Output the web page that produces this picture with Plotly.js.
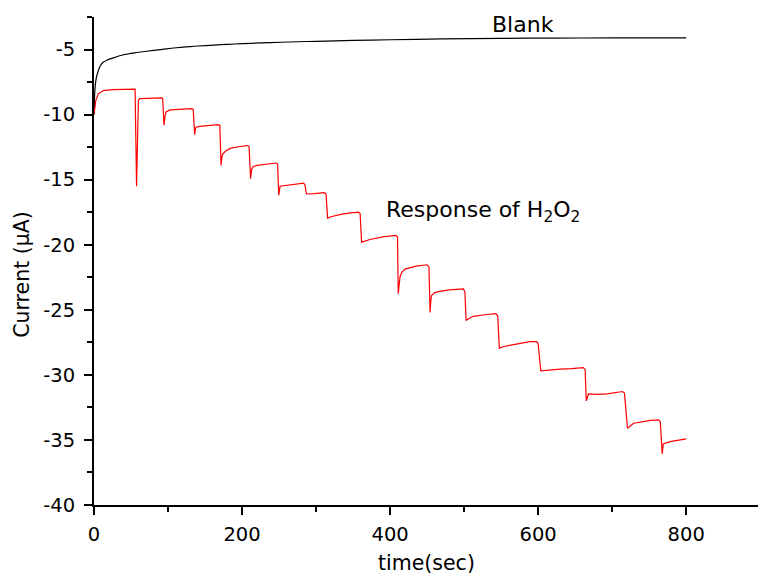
<!DOCTYPE html>
<html>
<head>
<meta charset="utf-8">
<script src="https://cdn.plot.ly/plotly-3.0.1.min.js"></script>
<style>html,body{margin:0;padding:0;background:#fff;}#chart{width:758px;height:576px;}</style>
</head>
<body>
<div id="chart"></div>
<script>
// Blank (black) chronoamperometric trace
const blankTime = [0, 0.5, 1, 2, 3.6, 6, 8, 12, 18, 26, 40, 55, 71, 90, 105, 117, 130, 140, 162, 180, 200, 225, 252, 275, 300, 350, 400, 470, 550, 620, 700, 800];
const blankCurrent = [-10, -9.2, -8.3, -7.6, -7.05, -6.6, -6.3, -6.0, -5.8, -5.64, -5.4, -5.25, -5.13, -5.0, -4.9, -4.83, -4.77, -4.73, -4.66, -4.6, -4.55, -4.49, -4.44, -4.4, -4.37, -4.3, -4.25, -4.18, -4.14, -4.12, -4.11, -4.1];

// Response of H2O2 (red) trace
const h2o2Time = [
  0, 1, 2.5, 5.9, 12.6, 25, 40, 55.5,
  57.5, 59, 60, 62, 75, 91.5,
  92.8, 94.6, 96, 97.3, 102.7, 115, 132,
  134, 136, 137, 137.8, 143, 155, 168,
  170, 171.6, 173, 174, 178, 184, 195, 207,
  209.5, 211.5, 213, 215, 220, 233, 246,
  248, 249.6, 251.4, 260, 272, 283,
  285, 287, 298, 311,
  313.5, 315.5, 320, 335, 347, 357.5,
  359.5, 361.5, 373, 390, 408,
  410, 411, 412.5, 413.5, 416, 420, 435, 450,
  452.5, 454, 455, 456, 460, 465, 480, 499,
  501, 502.7, 507, 512.6, 528, 543,
  545.5, 547.5, 555, 570, 580, 589, 598,
  600, 603.6, 615, 630, 645, 661,
  663.5, 665, 668, 680, 693, 705, 714,
  716.6, 720.7, 729, 740, 752, 762.6,
  765, 767.6, 769, 778, 790, 800
];
const h2o2Current = [
  -10.0, -9.3, -8.9, -8.4, -8.15, -8.08, -8.05, -8.05,
  -15.5, -9.5, -8.9, -8.77, -8.73, -8.72,
  -8.75, -10.82, -10.1, -9.8, -9.64, -9.58, -9.54,
  -9.6, -11.54, -11.1, -10.97, -10.9, -10.82, -10.77,
  -10.85, -13.9, -13.2, -13.02, -12.8, -12.6, -12.47, -12.38,
  -12.45, -14.92, -14.2, -14.0, -13.9, -13.8, -13.72,
  -13.8, -16.2, -15.5, -15.44, -15.33, -15.26,
  -15.4, -16.1, -16.08, -16.0,
  -16.1, -17.95, -17.85, -17.65, -17.55, -17.49,
  -17.6, -19.8, -19.6, -19.4, -19.28,
  -19.4, -23.77, -22.8, -22.44, -22.1, -21.87, -21.65, -21.54,
  -21.7, -25.2, -24.3, -23.9, -23.7, -23.6, -23.47, -23.4,
  -23.6, -25.82, -25.65, -25.5, -25.38, -25.3,
  -25.5, -27.95, -27.8, -27.65, -27.5, -27.44, -27.45,
  -27.6, -29.7, -29.62, -29.56, -29.52, -29.44,
  -29.6, -32.0, -31.46, -31.5, -31.46, -31.35, -31.28,
  -31.4, -34.1, -33.72, -33.6, -33.5, -33.46,
  -33.6, -36.08, -35.3, -35.13, -35.0, -34.92
];

const xTickVals = [0, 200, 400, 600, 800];
const xTickText = ['0', '200', '400', '600', '800'];
const yTickVals = [-40, -35, -30, -25, -20, -15, -10, -5];
const yTickText = ['-40', '-35', '-30', '-25', '-20', '-15', '-10', '-5'];

const FONT = 'DejaVu Sans, Arial, sans-serif';

const traces = [
  {x: blankTime, y: blankCurrent, type: 'scatter', mode: 'lines', line: {color: '#000000', width: 1.2, shape: 'spline', smoothing: 0.6}, name: 'Blank'},
  {x: h2o2Time, y: h2o2Current, type: 'scatter', mode: 'lines', line: {color: '#ff0000', width: 1.2}, name: 'H2O2'}
];

const layout = {
  width: 758, height: 576,
  margin: {l: 94, r: 0, t: 17, b: 71},
  paper_bgcolor: '#ffffff', plot_bgcolor: '#ffffff',
  showlegend: false,
  font: {family: FONT, color: '#000000', size: 19},
  xaxis: {
    range: [0, 897], showgrid: false, zeroline: false,
    showline: true, linecolor: '#000', linewidth: 2,
    ticks: 'outside', ticklen: 8, tickwidth: 2, tickcolor: '#000',
    tickmode: 'array', tickvals: xTickVals, ticktext: xTickText,
    tickfont: {family: FONT, size: 19.5, color: '#000'},
    ticklabelstandoff: 3,
    minor: {dtick: 100, tick0: 0, ticks: 'outside', ticklen: 5, tickwidth: 2, tickcolor: '#000', showgrid: false}
  },
  yaxis: {
    range: [-40, -2.5], showgrid: false, zeroline: false,
    showline: true, linecolor: '#000', linewidth: 2,
    ticks: 'outside', ticklen: 8, tickwidth: 2, tickcolor: '#000',
    tickmode: 'array', tickvals: yTickVals, ticktext: yTickText,
    tickfont: {family: FONT, size: 19.5, color: '#000'},
    ticklabelstandoff: 5,
    minor: {dtick: 2.5, tick0: 0, ticks: 'outside', ticklen: 5, tickwidth: 2, tickcolor: '#000', showgrid: false}
  },
  annotations: [
    {text: 'Blank', x: 579, y: -3.04, xref: 'x', yref: 'y', xanchor: 'center', yanchor: 'middle', showarrow: false,
     font: {family: FONT, size: 22, color: '#000'}},
    {text: 'Response of H<sub>2</sub>O<sub>2</sub>', x: 525.5, y: -17.45, xref: 'x', yref: 'y', xanchor: 'center', yanchor: 'middle', showarrow: false,
     font: {family: FONT, size: 22, color: '#000'}},
    {text: 'Current (µA)', x: -0.1084, y: 0.4718, xref: 'paper', yref: 'paper', xanchor: 'center', yanchor: 'middle', textangle: -90, showarrow: false,
     font: {family: FONT, size: 20.5, color: '#000'}},
    {text: 'time(sec)', x: 0.5015, y: -0.119, xref: 'paper', yref: 'paper', xanchor: 'center', yanchor: 'middle', showarrow: false,
     font: {family: FONT, size: 20.5, color: '#000'}}
  ]
};

Plotly.newPlot('chart', traces, layout, {displayModeBar: false, staticPlot: true});
</script>
</body>
</html>
